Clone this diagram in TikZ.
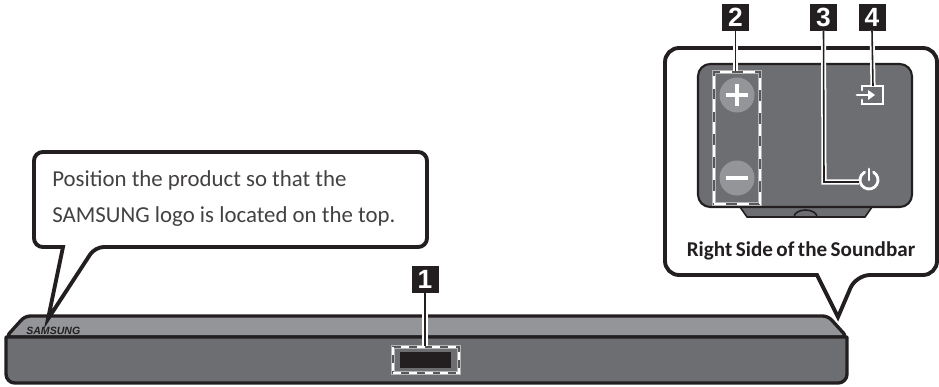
\documentclass[tikz,border=0pt]{standalone}
\usepackage{fontspec}
\setmainfont{Carlito}
\newfontfamily\numfont{Liberation Sans}
\usetikzlibrary{positioning, calc}
\definecolor{mdark}{HTML}{231F20}
\definecolor{mbar}{HTML}{6D6E71}
\definecolor{mtop}{HTML}{939598}
\tikzset{
  numbox/.style={fill=mdark, text=white, minimum width=27*0.02cm, minimum height=27*0.02cm,
                 inner sep=0pt, font=\numfont\fontsize{15}{15}\selectfont\bfseries},
  callout/.style={draw=mdark, fill=white, line width=2.2pt, line join=miter},
  barline/.style={draw=mdark, line width=1.9pt, line join=round},
  leader/.style={draw=mdark, line width=0.9pt,
                 preaction={draw=white, line width=2.9pt}},
  dashbox/.style={draw=white, line width=1.3pt, inner sep=0pt,
                  preaction={draw=mtop!70, line width=2.1pt, solid},
                  preaction={draw=mdark!75, line width=1.1pt, solid}},
  icon/.style={draw=white, line width=1.6pt, line cap=round},
  btnicon/.style={draw=white, line width=2pt},
  btn/.style={circle, fill=mtop, minimum size=35*0.02cm, inner sep=0pt},
  txt/.style={anchor=base west, inner sep=0pt, text=mdark!85, font=\fontsize{13}{13}\selectfont},
}
\begin{document}
\begin{tikzpicture}[x=0.02cm, y=-0.02cm]
  \useasboundingbox (0,0) rectangle (939,386);

  %% ── soundbar ──
  \filldraw[barline, fill=mtop, rounded corners=3pt] (6,337) -- (25,316) -- (828,316) -- (847,337) -- cycle;
  \filldraw[barline, fill=mbar] (6,337) [rounded corners=5pt] -- (6,383) -- (847,383) [sharp corners] -- (847,337) -- cycle;
  \node[anchor=base west, text=mdark, inner sep=0pt, font=\numfont\fontsize{6}{6}\selectfont\bfseries\itshape] (logo) at (26,334) {SAMSUNG};
  \node[fill=mdark, minimum width=51*0.02cm, minimum height=16*0.02cm, inner sep=0pt] (display) at (425.5,360) {};
  \node[dashbox, dash pattern=on 4.5pt off 4.5pt, minimum width=66*0.02cm, minimum height=26*0.02cm] (dash1) at (426,360) {};

  %% ── left callout ──
  \filldraw[callout, rounded corners=5pt] (95,247) [sharp corners] -- (48,319) -- (63,247) [rounded corners=5pt] -- (34,247) -- (34,152) -- (427,152) -- (427,247) -- cycle;
  \node[txt] (line1) at (52,186) {Position the product so that the};
  \node[txt] (line2) at (52,222) {SAMSUNG logo is located on the top.};

  %% ── right callout ──
  \filldraw[callout, rounded corners=8pt] (856,275) [sharp corners] -- (838,317) -- (817,275) [rounded corners=8pt] -- (665,275) -- (665,48) -- (937,48) -- (937,275) -- cycle;
  \filldraw[draw=mdark, fill=mbar, line width=0.9pt] (740,207) -- (747,217) -- (865,217) -- (872,207) -- cycle;
  \filldraw[draw=mdark, fill=mbar, line width=0.9pt] (794,217) arc[start angle=180, end angle=360, x radius=11.5, y radius=7] -- cycle;
  \filldraw[draw=mdark, fill=mbar, line width=1.2pt, rounded corners=7pt] (698,64) rectangle (912,207);
  \node[btn] (plus) at (737,95) {};
  \node[btn] (minus) at (737,178) {};
  \draw[btnicon] ($(plus)+(-11,0)$) -- ($(plus)+(11,0)$) ($(plus)+(0,-11)$) -- ($(plus)+(0,11)$);
  \draw[btnicon] ($(minus)+(-11,0)$) -- ($(minus)+(11,0)$);
  \node[dashbox, dash pattern=on 7pt off 6pt, minimum width=46*0.02cm, minimum height=132*0.02cm] (dash2) at (737,138) {};
  \node[anchor=base, inner sep=0pt, text=mdark, font=\fontsize{12}{12}\selectfont\bfseries] (side) at (801,256) {Right\,Side\,of\,the\,Soundbar};

  %% ── icons ──
  \coordinate (power) at (869,180);
  \draw[icon] ($(power)+(-60:9)$) arc[start angle=-60, end angle=240, radius=9];
  \draw[icon] (power) -- ($(power)+(0,-11)$);
  \coordinate (inputtop) at (873,86);
  \draw[icon] (862,90) -- (862,86) -- (883,86) -- (883,104) -- (862,104) -- (862,100);
  \draw[icon] (857,95) -- (870,95);
  \fill[white] (875,95) -- (868,90) -- (868,100) -- cycle;

  %% ── number labels ──
  \node[numbox] (n1) at (425,279.5) {1};
  \node[numbox] (n2) at (735.5,17) {2};
  \node[numbox] (n3) at (823.5,17) {3};
  \node[numbox] (n4) at (872,17) {4};
  \coordinate (corner3) at (824,182);
  \coordinate (power3) at (859,182);
  \draw[leader] (n1.south) -- (n1.south |- dash1.north);
  \draw[leader] (n2.south) -- (n2.south |- dash2.north);
  \draw[leader] (n3.south) -- (corner3) -- (power3);
  \draw[leader] (n4.south) -- (inputtop);
\end{tikzpicture}
\end{document}
